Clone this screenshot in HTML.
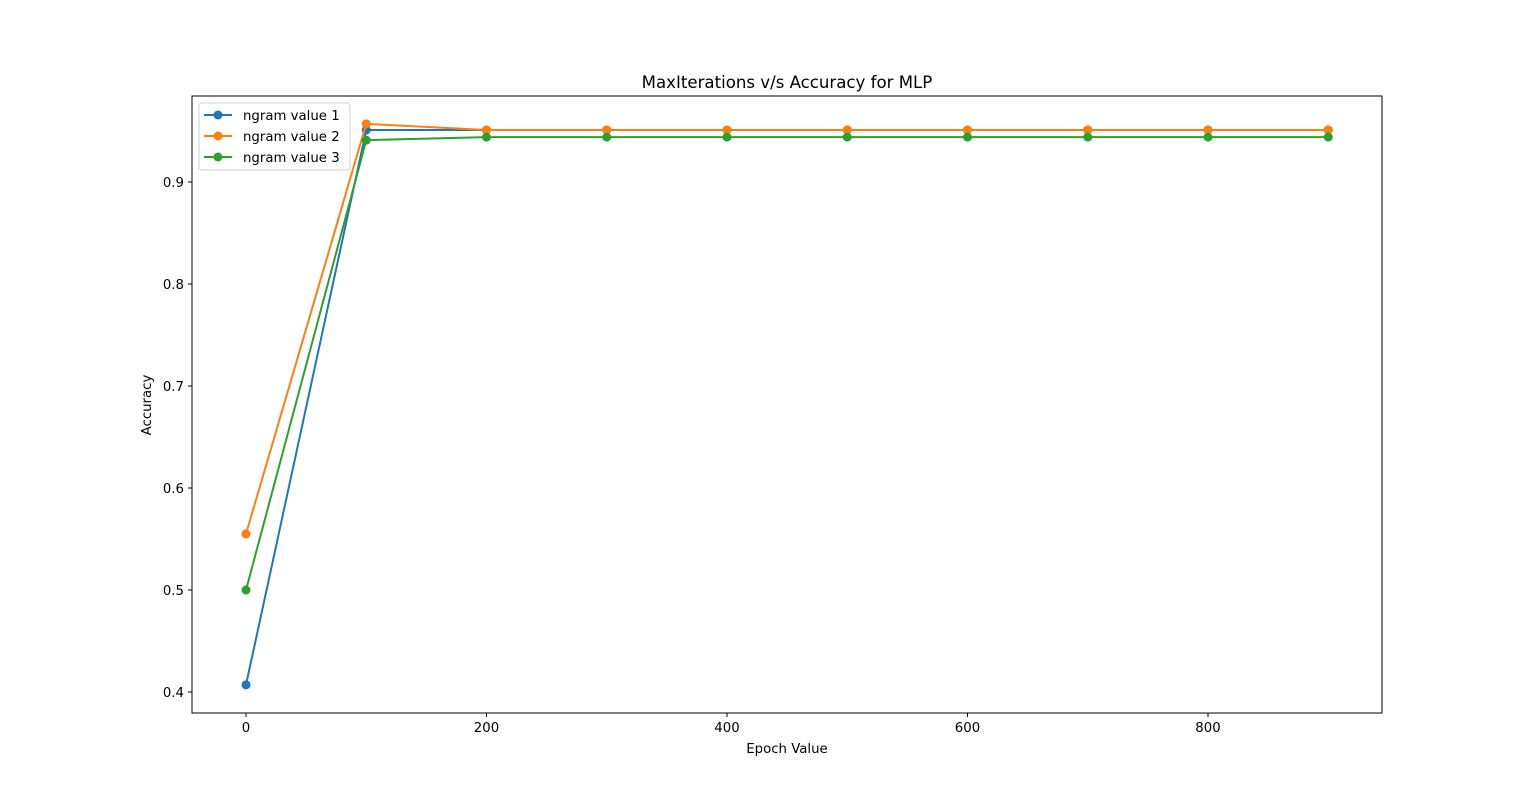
<!DOCTYPE html>
<html><head><meta charset="utf-8"><style>
body{margin:0;background:#fff;}
svg{display:block;font-family:"DejaVu Sans","Liberation Sans",sans-serif;}
</style></head><body>
<svg id="chart" width="1536" height="801">
<rect width="1536" height="801" fill="#fff"/>
<text x="787" y="88" font-size="16.6" text-anchor="middle">MaxIterations v/s Accuracy for MLP</text>
<g id="axes"></g>
<g id="series"></g>
<rect x="192" y="96" width="1190" height="617" fill="none" stroke="#000" stroke-width="1"/>
<text x="787" y="753" font-size="13.3" text-anchor="middle">Epoch Value</text>
<text transform="translate(151,405) rotate(-90)" font-size="13.3" text-anchor="middle">Accuracy</text>
<g>
<rect x="199" y="103" width="151" height="67" rx="3" fill="#fff" stroke="#ccc" opacity="0.9"/>
<g id="legend"></g>
</g>
</svg>
<script>
const epochs=[0,100,200,300,400,500,600,700,800,900];
const ngram1=[0.407,0.951,0.951,0.951,0.951,0.951,0.951,0.951,0.951,0.951];
const ngram2=[0.555,0.957,0.951,0.951,0.951,0.951,0.951,0.951,0.951,0.951];
const ngram3=[0.500,0.941,0.944,0.944,0.944,0.944,0.944,0.944,0.944,0.944];
const xTicks=[0,200,400,600,800];
const yTicks=[0.4,0.5,0.6,0.7,0.8,0.9];
const seriesNames=["ngram value 1","ngram value 2","ngram value 3"];
const colors=["#1f77b4","#ff7f0e","#2ca02c"];
const NS="http://www.w3.org/2000/svg";
function X(v){return 246+(v-0)*1.2025;}
function Y(v){return 692-(v-0.4)*1020;}
function mk(t,a,p){const e=document.createElementNS(NS,t);for(const k in a)e.setAttribute(k,a[k]);p.appendChild(e);return e;}
const axes=document.getElementById('axes');
xTicks.forEach(t=>{
  const g=mk('g',{},axes);
  
  
  mk('line',{x1:X(t),x2:X(t),y1:713,y2:717,stroke:'#000'},g);
  const tx=mk('text',{x:X(t),y:732,'font-size':13.3,'text-anchor':'middle'},g);tx.textContent=t;
});
yTicks.forEach(t=>{
  const g=mk('g',{},axes);
  
  
  mk('line',{x1:188,x2:192,y1:Y(t),y2:Y(t),stroke:'#000'},g);
  const tx=mk('text',{x:184,y:Y(t)+5,'font-size':13.3,'text-anchor':'end'},g);tx.textContent=t.toFixed(1);
});
const ser=document.getElementById('series');
[ngram1,ngram2,ngram3].forEach((d,i)=>{
  const g=mk('g',{},ser);
  
  
  mk('polyline',{points:d.map((v,j)=>X(epochs[j])+','+Y(v)).join(' '),fill:'none',stroke:colors[i],'stroke-width':2},g);
  d.forEach((v,j)=>{
    const c=mk('circle',{cx:X(epochs[j]),cy:Y(v),r:4.5,fill:colors[i]},g);
    
    
  });
});
const lg=document.getElementById('legend');
seriesNames.forEach((n,i)=>{
  const y=115+i*21;
  const g=mk('g',{},lg);
  
  
  mk('line',{x1:204,x2:232,y1:y,y2:y,stroke:colors[i],'stroke-width':2},g);
  mk('circle',{cx:218,cy:y,r:4.5,fill:colors[i]},g);
  const t=mk('text',{x:243,y:y+5,'font-size':13.3},g);t.textContent=n;
});
</script>
</body></html>
